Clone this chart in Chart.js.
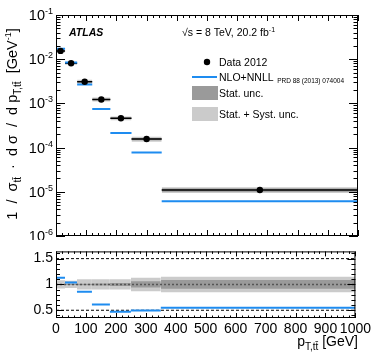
<!DOCTYPE html>
<html>
<head>
<meta charset="utf-8">
<script src="https://cdn.jsdelivr.net/npm/chart.js@4"></script>
<style>
  body { margin: 0; background: #fff; }
  #wrap { position: relative; width: 374px; height: 360px; }
  #topChart { position: absolute; left: 0; top: 0; }
  #ratioChart { position: absolute; left: 0; top: 240px; }
</style>
</head>
<body>
<div id="wrap">
  <canvas id="topChart" width="374" height="240"></canvas>
  <canvas id="ratioChart" width="374" height="120"></canvas>
</div>
<script>
// bins in p_T,ttbar [GeV]
const binEdges = [0, 30, 70, 120, 180, 250, 350, 1000];
// normalised cross section, data 2012
const dataValues = [1.54e-2, 8.1e-3, 3.1e-3, 1.23e-3, 4.6e-4, 1.56e-4, 1.1e-5];
// NLO+NNLL prediction
const predValues = [1.73e-2, 8.4e-3, 2.67e-3, 7.5e-4, 2.15e-4, 7.7e-5, 6.1e-6];
// prediction / data
const predRatio = [1.13, 1.04, 0.86, 0.61, 0.47, 0.495, 0.55];
// relative uncertainties
const statUnc = [0.01, 0.01, 0.015, 0.02, 0.03, 0.06, 0.085];
const totUnc = [0.08, 0.07, 0.10, 0.10, 0.10, 0.13, 0.15];
// axis ticks
const xTicks = [0, 100, 200, 300, 400, 500, 600, 700, 800, 900, 1000];
const logExponents = [-1, -2, -3, -4, -5, -6];
const ratioTicks = [0.5, 1, 1.5];

const FONT = "'Liberation Sans', Arial, sans-serif";
const BLUE = '#1e8cf0';
const DARK = '#9a9a9a';
const LIGHT = '#cbcbcb';

Chart.defaults.font.family = FONT;
Chart.defaults.color = '#000';

// separate horizontal segment per bin
function segPoints(vals) {
  const pts = [];
  vals.forEach((v, i) => {
    pts.push({ x: binEdges[i], y: v }, { x: binEdges[i + 1], y: v }, { x: binEdges[i + 1], y: null });
  });
  return pts;
}
// one filled box per bin: upper edge dataset + lower edge filled to it
function boxDatasets(center, unc, color, order) {
  const out = [];
  center.forEach((v, i) => {
    const x0 = binEdges[i], x1 = binEdges[i + 1];
    out.push({
      data: [{ x: x0, y: v * (1 + unc[i]) }, { x: x1, y: v * (1 + unc[i]) }],
      borderColor: 'rgba(0,0,0,0)', borderWidth: 0, pointRadius: 0, fill: false, order: order
    });
    out.push({
      data: [{ x: x0, y: v * (1 - unc[i]) }, { x: x1, y: v * (1 - unc[i]) }],
      borderColor: 'rgba(0,0,0,0)', borderWidth: 0, pointRadius: 0, fill: '-1',
      backgroundColor: color, order: order
    });
  });
  return out;
}

// text with sub/superscripts: parts = [text, size, dy, style]
function drawRich(ctx, x, y, parts, align) {
  let w = 0;
  parts.forEach(p => { ctx.font = (p[3] || '') + ' ' + p[1] + 'px ' + FONT; w += ctx.measureText(p[0]).width; });
  let cx = align === 'center' ? x - w / 2 : align === 'right' ? x - w : x;
  ctx.textAlign = 'left';
  ctx.textBaseline = 'alphabetic';
  parts.forEach(p => {
    ctx.font = (p[3] || '') + ' ' + p[1] + 'px ' + FONT;
    ctx.fillText(p[0], cx, y + (p[2] || 0));
    cx += ctx.measureText(p[0]).width;
  });
  return w;
}
function line(ctx, x1, y1, x2, y2) {
  ctx.beginPath(); ctx.moveTo(x1, y1); ctx.lineTo(x2, y2); ctx.stroke();
}
function xFrameTicks(ctx, a, xs, major, minor) {
  for (let v = 0; v <= 1000; v += 20) {
    const px = Math.round(xs.getPixelForValue(v)) + 0.5;
    const len = v % 100 === 0 ? major : minor;
    line(ctx, px, a.bottom, px, a.bottom - len);
    line(ctx, px, a.top, px, a.top + len);
  }
}

const topDecor = {
  id: 'topDecor',
  afterDraw(chart) {
    const ctx = chart.ctx, a = chart.chartArea, xs = chart.scales.x, ys = chart.scales.y;
    ctx.save();
    ctx.strokeStyle = '#000'; ctx.fillStyle = '#000'; ctx.lineWidth = 1;
    ctx.strokeRect(a.left + 0.5, a.top + 0.5, a.right - a.left - 1, a.bottom - a.top - 1);
    xFrameTicks(ctx, a, xs, 6, 3);
    for (let k = -6; k <= -1; k++) {
      for (let m = 1; m <= 9; m++) {
        const v = m * Math.pow(10, k);
        if (v > 0.1 + 1e-9) break;
        const py = Math.round(ys.getPixelForValue(v)) + 0.5;
        const len = m === 1 ? 9 : 4.5;
        line(ctx, a.left, py, a.left + len, py);
        line(ctx, a.right, py, a.right - len, py);
      }
    }
    // log tick labels
    logExponents.forEach(k => {
      const py = ys.getPixelForValue(Math.pow(10, k));
      ctx.font = '9px ' + FONT;
      const ew = ctx.measureText(String(k)).width;
      ctx.textAlign = 'left'; ctx.textBaseline = 'alphabetic';
      ctx.fillText(String(k), 53 - ew, py - 1);
      ctx.font = '14.5px ' + FONT;
      ctx.textAlign = 'right';
      ctx.fillText('10', 53 - ew, py + 5);
    });
    // y axis title
    ctx.save();
    ctx.translate(17, 124);
    ctx.rotate(-Math.PI / 2);
    drawRich(ctx, 0, 0, [
      ['1  /  σ', 14.5], ['tt\u0304', 10, 4], ['  ·  d σ  /  d p', 14.5], ['T,tt\u0304', 10, 4],
      ['  [GeV', 14.5], ['-1', 9, -6], [']', 14.5]
    ], 'center');
    ctx.restore();
    // labels
    drawRich(ctx, 69, 36, [['ATLAS', 10.5, 0, 'italic bold']], 'left');
    drawRich(ctx, 182, 36, [['√s = 8 TeV, 20.2 fb', 10.5], ['-1', 7, -4]], 'left');
    // legend
    ctx.beginPath(); ctx.arc(207, 62, 3.2, 0, Math.PI * 2); ctx.fill();
    drawRich(ctx, 219, 66, [['Data 2012', 10.5]], 'left');
    ctx.strokeStyle = BLUE; ctx.lineWidth = 2;
    line(ctx, 192, 77, 217, 77);
    drawRich(ctx, 219, 81, [['NLO+NNLL', 10.5], ['  PRD 88 (2013) 074004', 6.5, 2]], 'left');
    ctx.fillStyle = DARK; ctx.fillRect(192, 86, 26, 14);
    ctx.fillStyle = LIGHT; ctx.fillRect(192, 107, 26, 14);
    ctx.fillStyle = '#000';
    drawRich(ctx, 219, 97, [['Stat. unc.', 10.5]], 'left');
    drawRich(ctx, 219, 118, [['Stat. + Syst. unc.', 10.5]], 'left');
    ctx.restore();
  }
};

const ratioDecor = {
  id: 'ratioDecor',
  afterDraw(chart) {
    const ctx = chart.ctx, a = chart.chartArea, xs = chart.scales.x, ys = chart.scales.y;
    ctx.save();
    ctx.strokeStyle = '#000'; ctx.fillStyle = '#000'; ctx.lineWidth = 1;
    ctx.strokeRect(a.left + 0.5, a.top + 0.5, a.right - a.left - 1, a.bottom - a.top - 1);
    xFrameTicks(ctx, a, xs, 5, 2.5);
    for (let i = 4; i <= 16; i++) {
      const v = i / 10;
      const py = Math.round(ys.getPixelForValue(v)) + 0.5;
      const len = i % 5 === 0 ? 8 : 4;
      line(ctx, a.left, py, a.left + len, py);
      line(ctx, a.right, py, a.right - len, py);
    }
    // y title as fraction
    ctx.save();
    ctx.translate(21, 271);
    ctx.rotate(-Math.PI / 2);
    const w = drawRich(ctx, 0, -2, [['Prediction', 13]], 'center');
    drawRich(ctx, 0, 11, [['Data', 13]], 'center');
    ctx.lineWidth = 1;
    line(ctx, -w / 2, 0.5, w / 2, 0.5);
    ctx.restore();
    // x title
    drawRich(ctx, 358, 106, [['p', 14], ['T,tt\u0304', 10, 4], [' [GeV]', 14]], 'right');
    ctx.restore();
  }
};

const ones = dataValues.map(() => 1);

new Chart(document.getElementById('topChart'), {
  type: 'line',
  data: {
    datasets: [
      { data: segPoints(dataValues), borderColor: '#000', borderWidth: 1.5, pointRadius: 0, spanGaps: false, order: 4 },
      { data: segPoints(predValues), borderColor: BLUE, borderWidth: 2, pointRadius: 0, spanGaps: false, order: 3 },
      {
        data: dataValues.map((v, i) => ({ x: (binEdges[i] + binEdges[i + 1]) / 2, y: v })),
        showLine: false, pointRadius: 3.2, pointBackgroundColor: '#000', pointBorderWidth: 0, order: 1
      }
    ].concat(boxDatasets(dataValues, totUnc, LIGHT, 10), boxDatasets(dataValues, statUnc, DARK, 8))
  },
  options: {
    responsive: false,
    animation: false,
    events: [],
    layout: { padding: { left: 56, right: 16, top: 15, bottom: 3.5 } },
    plugins: { legend: { display: false }, tooltip: { enabled: false } },
    scales: {
      x: { type: 'linear', min: 0, max: 1000, display: false },
      y: { type: 'logarithmic', min: 1e-6, max: 1e-1, display: false }
    }
  },
  plugins: [topDecor]
});

new Chart(document.getElementById('ratioChart'), {
  type: 'line',
  data: {
    datasets: [
      { data: [{ x: 0, y: 1.5 }, { x: 1000, y: 1.5 }], borderColor: '#000', borderWidth: 1, borderDash: [3, 2], pointRadius: 0, order: 5 },
      { data: [{ x: 0, y: 0.5 }, { x: 1000, y: 0.5 }], borderColor: '#000', borderWidth: 1, borderDash: [3, 2], pointRadius: 0, order: 5 },
      { data: [{ x: 0, y: 1 }, { x: 1000, y: 1 }], borderColor: '#555', borderWidth: 1.5, borderDash: [2, 2], pointRadius: 0, order: 4 },
      { data: segPoints(predRatio), borderColor: BLUE, borderWidth: 2, pointRadius: 0, spanGaps: false, order: 2 }
    ].concat(boxDatasets(ones, totUnc, LIGHT, 10), boxDatasets(ones, statUnc, DARK, 8))
  },
  options: {
    responsive: false,
    animation: false,
    events: [],
    layout: { padding: { left: 0, right: 16, top: 2, bottom: 0 } },
    plugins: { legend: { display: false }, tooltip: { enabled: false } },
    scales: {
      x: {
        type: 'linear', min: 0, max: 1000,
        grid: { display: false, drawTicks: false }, border: { display: false },
        afterBuildTicks: s => { s.ticks = xTicks.map(v => ({ value: v })); },
        afterFit: s => { s.height = 42; },
        ticks: { font: { size: 14 }, padding: 3, maxRotation: 0, autoSkip: false, callback: v => String(v) }
      },
      y: {
        type: 'linear', min: 0.35, max: 1.64,
        grid: { display: false, drawTicks: false }, border: { display: false },
        afterBuildTicks: s => { s.ticks = ratioTicks.map(v => ({ value: v })); },
        afterFit: s => { s.width = 56; },
        ticks: { font: { size: 14 }, padding: 3, callback: v => String(v) }
      }
    }
  },
  plugins: [ratioDecor]
});
</script>
</body>
</html>
